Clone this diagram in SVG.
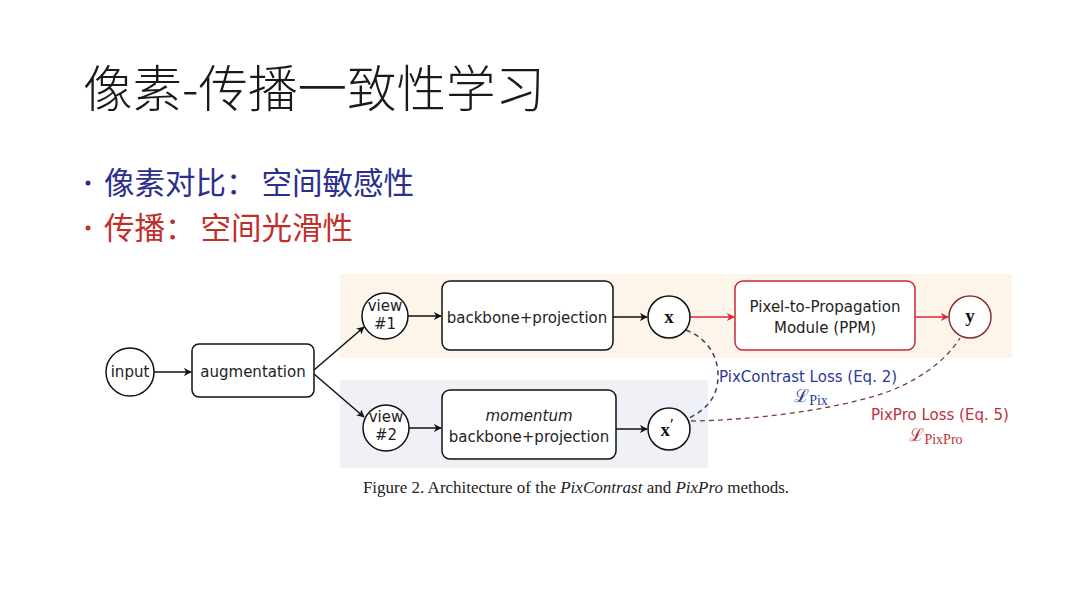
<svg xmlns="http://www.w3.org/2000/svg" width="1080" height="608" viewBox="0 0 1080 608">
<defs>
<marker id="ak" viewBox="0 0 10 10" refX="9" refY="5" markerWidth="8" markerHeight="8" markerUnits="userSpaceOnUse" orient="auto"><path d="M0,0 L10,5 L0,10 L3,5 Z" fill="#111"/></marker>
<marker id="ar" viewBox="0 0 10 10" refX="9" refY="5" markerWidth="8" markerHeight="8" markerUnits="userSpaceOnUse" orient="auto"><path d="M0,0 L10,5 L0,10 L3,5 Z" fill="#d8283a"/></marker>
</defs>
<style>
.cn{font-family:"Noto Sans CJK SC","Noto Sans",sans-serif}
.sf{font-family:"DejaVu Sans","Liberation Sans",sans-serif;font-size:15px;fill:#222}
.nd{fill:#fff;stroke:#111;stroke-width:1.5}
.bx{fill:#fff;stroke:#111;stroke-width:1.5}
.tm{font-family:"Liberation Serif","DejaVu Serif",serif}
.ln{fill:none;stroke:#111;stroke-width:1.5}
.lr{fill:none;stroke:#d8283a;stroke-width:1.5}
</style>
<rect width="1080" height="608" fill="#fff"/>
<text class="cn" x="83" y="107" font-size="49.5" font-weight="300" fill="#1a1a1a">像素-传播一致性学习</text>
<g id="bullets">
<circle cx="88" cy="183" r="2.5" fill="#2b2f8f"/>
<text class="cn" x="104" y="194" font-size="30.5" fill="#2b2f8f">像素对比：<tspan dx="5">空间敏感性</tspan></text>
<circle cx="88" cy="228" r="2.5" fill="#c0302a"/>
<text class="cn" x="104" y="239" font-size="30.5" fill="#c0302a">传播：<tspan dx="5">空间光滑性</tspan></text>
</g>
<g id="bands">
<rect x="340" y="274" width="672" height="84" fill="#fdf4ea"/>
<rect x="340" y="380" width="368" height="88" fill="#eff1f6"/>
</g>
<g id="connectors">
<line class="ln" x1="154" y1="372" x2="191" y2="372" marker-end="url(#ak)"/>
<line class="ln" x1="314" y1="370" x2="364" y2="327" marker-end="url(#ak)"/>
<line class="ln" x1="314" y1="374" x2="364" y2="417" marker-end="url(#ak)"/>
<line class="ln" x1="408" y1="316" x2="441" y2="316" marker-end="url(#ak)"/>
<line class="ln" x1="409" y1="428" x2="441" y2="428" marker-end="url(#ak)"/>
<line class="ln" x1="613" y1="317" x2="647" y2="317" marker-end="url(#ak)"/>
<line class="ln" x1="616" y1="429" x2="647" y2="429" marker-end="url(#ak)"/>
<line class="lr" x1="690" y1="317" x2="734" y2="317" marker-end="url(#ar)"/>
<line class="lr" x1="915" y1="317" x2="948" y2="317" marker-end="url(#ar)"/>
<path d="M686,330 C706,338 719,355 718,378 C717,398 706,410 687,419" fill="none" stroke="#3a3f6a" stroke-width="1.5" stroke-dasharray="5,4"/>
<path d="M691,421 C750,420 820,412 875,396 C915,384 945,362 960,338" fill="none" stroke="#7a3a4a" stroke-width="1.3" stroke-dasharray="5,4"/>
</g>
<g id="input"><circle class="nd" cx="130" cy="372" r="24"/><text class="sf" x="130" y="377" text-anchor="middle">input</text></g>
<g id="augmentation"><rect class="bx" x="192" y="344" width="122" height="53" rx="7"/><text class="sf" x="253" y="377" text-anchor="middle">augmentation</text></g>
<g id="view1"><circle class="nd" cx="385" cy="316" r="23"/><text class="sf" x="385" y="311" text-anchor="middle" font-size="14">view</text><text class="sf" x="385" y="329" text-anchor="middle" font-size="14">#1</text></g>
<g id="view2"><circle class="nd" cx="386" cy="428" r="23"/><text class="sf" x="386" y="422" text-anchor="middle" font-size="14">view</text><text class="sf" x="386" y="440" text-anchor="middle" font-size="14">#2</text></g>
<g id="backbone"><rect class="bx" x="442" y="281" width="171" height="69" rx="8"/><text class="sf" x="527" y="323" text-anchor="middle">backbone+projection</text></g>
<g id="momentum"><rect class="bx" x="442" y="390" width="174" height="69" rx="8" fill="#f4f5f8"/><text class="sf" x="529" y="421" text-anchor="middle" font-style="italic">momentum</text><text class="sf" x="529" y="442" text-anchor="middle">backbone+projection</text></g>
<g id="x"><circle class="nd" cx="669" cy="317" r="21"/><text class="tm" x="669" y="323" text-anchor="middle" font-size="19" font-weight="bold" fill="#111">x</text></g>
<g id="xprime"><circle class="nd" cx="669" cy="429" r="21"/><text class="tm" x="667" y="436" text-anchor="middle" font-size="19" font-weight="bold" fill="#111">x<tspan font-weight="normal" dy="-6" font-size="17">′</tspan></text></g>
<g id="ppm"><rect x="735" y="281" width="180" height="69" rx="8" fill="#fff" stroke="#c8283a" stroke-width="1.5"/><text class="sf" x="825" y="312" text-anchor="middle">Pixel-to-Propagation</text><text class="sf" x="825" y="333" text-anchor="middle">Module (PPM)</text></g>
<g id="y"><circle cx="970" cy="317" r="21" fill="#fff" stroke="#8a3040" stroke-width="1.5"/><text class="tm" x="970" y="322" text-anchor="middle" font-size="19" font-weight="bold" fill="#111">y</text></g>
<g id="labels">
<text x="719" y="382" font-family="DejaVu Sans,sans-serif" font-size="15" fill="#2a3a9a">PixContrast Loss (Eq. 2)</text>
<text class="tm" x="811" y="402" text-anchor="middle" font-size="18" fill="#2a3a9a">ℒ<tspan font-size="14" dy="3">Pix</tspan></text>
<text x="940" y="420" text-anchor="middle" font-family="DejaVu Sans,sans-serif" font-size="15" fill="#c0303a">PixPro Loss (Eq. 5)</text>
<text class="tm" x="936" y="441" text-anchor="middle" font-size="18" fill="#c0303a">ℒ<tspan font-size="14" dy="3">PixPro</tspan></text>
<text class="tm" x="576" y="493" text-anchor="middle" font-size="17" fill="#222">Figure 2. Architecture of the <tspan font-style="italic">PixContrast</tspan> and <tspan font-style="italic">PixPro</tspan> methods.</text>
</g>
</svg>
